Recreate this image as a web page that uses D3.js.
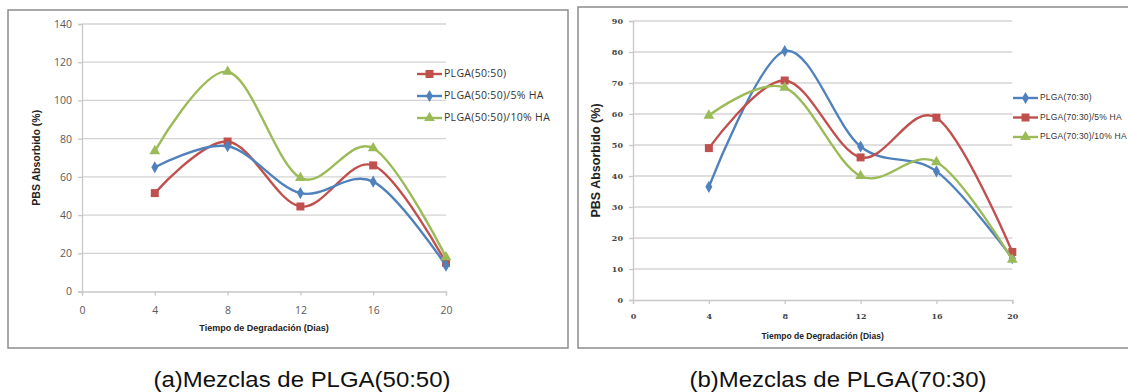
<!DOCTYPE html>
<html>
<head>
<meta charset="utf-8">
<script src="https://cdn.jsdelivr.net/npm/d3@7"></script>
<style>
  body { margin: 0; background: #fff; }
  svg { display: block; }
</style>
</head>
<body>
<svg id="chart" width="1128" height="392"></svg>
<script>
(function (d3) {
    'use strict';

    // Days on the x axis.
    var days = [4, 8, 12, 16, 20];

    // (a) PLGA(50:50) blends.
    var namesA = ['PLGA(50:50)', 'PLGA(50:50)/5% HA', 'PLGA(50:50)/10% HA'];
    var plga5050 = [51.5, 78.5, 44.5, 66, 15];
    var plga5050ha5 = [65, 76, 51.5, 57.5, 13.5];
    var plga5050ha10 = [73.5, 115, 59.5, 75, 18];
    var yTicksA = [0, 20, 40, 60, 80, 100, 120, 140];

    // (b) PLGA(70:30) blends.
    var namesB = ['PLGA(70:30)', 'PLGA(70:30)/5% HA', 'PLGA(70:30)/10% HA'];
    var plga7030 = [36.5, 80.3, 49.5, 41.5, 13.5];
    var plga7030ha5 = [49, 70.8, 46, 58.8, 15.5];
    var plga7030ha10 = [59.5, 68.5, 40, 44.5, 13];
    var yTicksB = [0, 10, 20, 30, 40, 50, 60, 70, 80, 90];

    var xTicks = [0, 4, 8, 12, 16, 20];
    var xTitle = 'Tiempo de Degradación (Dias)';
    var yTitle = 'PBS Absorbido (%)';
    var captions = ['(a)Mezclas de PLGA(50:50)', '(b)Mezclas de PLGA(70:30)'];

    var red = '#c0504d', blue = '#4f81bd', green = '#9bbb59';

    var svg = d3.select('#chart');

    // Panel settings (boxes, plot areas, fonts).
    var panels = [
        {
            box: [8, 10, 560, 338],
            x0: 82, x1: 446, y0: 291.5, y1: 24,
            yMax: 140, yTicks: yTicksA,
            tickFont: '"Open Sans", "DejaVu Sans", sans-serif', tickSize: 10.5, tickWeight: 'normal', tickColor: '#5a5a5a',
            xLabelY: 311, xTitleY: 329, xTitleSize: 9,
            yTitleX: 37, yTitleSize: 10.5,
            series: [
                {name: namesA[0], values: plga5050, color: red, marker: 'square'},
                {name: namesA[1], values: plga5050ha5, color: blue, marker: 'diamond'},
                {name: namesA[2], values: plga5050ha10, color: green, marker: 'triangle'}
            ],
            legend: {x: 417, y: 74, step: 22, size: 10.5, spacing: 0.3, font: '"Open Sans", "DejaVu Sans", sans-serif'},
            caption: captions[0], captionX: 302
        },
        {
            box: [578, 7, 560, 341],
            x0: 633, x1: 1012.3, y0: 300, y1: 21,
            yMax: 90, yTicks: yTicksB,
            tickFont: '"DejaVu Serif", "Liberation Serif", serif', tickSize: 8, tickWeight: 'bold', tickColor: '#444',
            xLabelY: 317, xTitleY: 337, xTitleSize: 8.5,
            yTitleX: 597, yTitleSize: 12.5,
            series: [
                {name: namesB[0], values: plga7030, color: blue, marker: 'diamond'},
                {name: namesB[1], values: plga7030ha5, color: red, marker: 'square'},
                {name: namesB[2], values: plga7030ha10, color: green, marker: 'triangle'}
            ],
            legend: {x: 1013, y: 98, step: 19.5, size: 8.5, spacing: 0.2, font: '"Liberation Sans", Arial, sans-serif'},
            caption: captions[1], captionX: 838
        }
    ];

    var symbolType = {
        square: d3.symbolSquare,
        diamond: d3.symbolDiamond,
        triangle: d3.symbolTriangle
    };
    var symbolSize = {square: 64, diamond: 42, triangle: 50};

    panels.forEach(drawPanel);

    function drawPanel(p) {
        var g = svg.append('g');

        // Frame.
        g.append('rect')
            .attr('x', p.box[0]).attr('y', p.box[1])
            .attr('width', p.box[2]).attr('height', p.box[3])
            .attr('fill', '#fff')
            .attr('stroke', '#8c8c8c')
            .attr('stroke-width', 1.5);

        var x = d3.scaleLinear().domain([0, 20]).range([p.x0, p.x1]);
        var y = d3.scaleLinear().domain([0, p.yMax]).range([p.y0, p.y1]);

        // Gridlines.
        g.append('g')
            .selectAll('line')
            .data(p.yTicks.slice(1))
            .join('line')
            .attr('x1', p.x0).attr('x2', p.x1)
            .attr('y1', function (d) { return y(d); })
            .attr('y2', function (d) { return y(d); })
            .attr('stroke', '#d4d4d4')
            .attr('stroke-width', 1.3);

        // Axes.
        var yAxis = g.append('g')
            .attr('transform', 'translate(' + p.x0 + ',0)')
            .call(d3.axisLeft(y).tickValues(p.yTicks).tickSize(4).tickPadding(6));
        var xAxis = g.append('g')
            .attr('transform', 'translate(0,' + p.y0 + ')')
            .call(d3.axisBottom(x).tickValues(xTicks).tickSize(4).tickPadding(6));

        [yAxis, xAxis].forEach(function (ax) {
            ax.select('.domain').attr('stroke', '#c8c8c8').attr('stroke-width', 1.3);
            ax.selectAll('.tick line').attr('stroke', '#c8c8c8').attr('stroke-width', 1.3);
            ax.selectAll('.tick text')
                .attr('font-family', p.tickFont)
                .attr('font-size', p.tickSize)
                .attr('font-weight', p.tickWeight)
                .attr('fill', p.tickColor);
        });
        xAxis.selectAll('.tick text')
            .attr('dy', null)
            .attr('y', p.xLabelY - p.y0)
            .attr('dominant-baseline', 'middle');

        // Axis titles.
        g.append('text')
            .attr('x', (p.x0 + p.x1) / 2)
            .attr('y', p.xTitleY)
            .attr('text-anchor', 'middle')
            .attr('dominant-baseline', 'middle')
            .attr('font-family', '"Liberation Sans", Arial, sans-serif')
            .attr('font-weight', 'bold')
            .attr('font-size', p.xTitleSize)
            .attr('fill', '#222')
            .text(xTitle);

        g.append('text')
            .attr('transform', 'translate(' + p.yTitleX + ',' + ((p.y0 + p.y1) / 2) + ') rotate(-90)')
            .attr('text-anchor', 'middle')
            .attr('dominant-baseline', 'middle')
            .attr('font-family', '"Liberation Sans", Arial, sans-serif')
            .attr('font-weight', 'bold')
            .attr('font-size', p.yTitleSize)
            .attr('fill', '#222')
            .text(yTitle);

        // Smoothed lines, like Excel's.
        var line = d3.line()
            .x(function (d, i) { return x(days[i]); })
            .y(function (d) { return y(d); })
            .curve(d3.curveCatmullRom.alpha(0));

        p.series.forEach(function (s) {
            g.append('path')
                .datum(s.values)
                .attr('fill', 'none')
                .attr('stroke', s.color)
                .attr('stroke-width', 2.4)
                .attr('d', line);

            g.append('g')
                .selectAll('path')
                .data(s.values)
                .join('path')
                .attr('transform', function (d, i) {
                    return 'translate(' + x(days[i]) + ',' + y(d) + ')';
                })
                .attr('d', d3.symbol().type(symbolType[s.marker]).size(symbolSize[s.marker]))
                .attr('fill', s.color);
        });

        // Legend.
        var lg = g.append('g')
            .selectAll('g')
            .data(p.series)
            .join('g')
            .attr('transform', function (d, i) {
                return 'translate(' + p.legend.x + ',' + (p.legend.y + i * p.legend.step) + ')';
            });
        lg.append('line')
            .attr('x1', 0).attr('x2', 25)
            .attr('stroke', function (d) { return d.color; })
            .attr('stroke-width', 2.4);
        lg.append('path')
            .attr('transform', 'translate(12.5,0)')
            .attr('d', function (d) {
                return d3.symbol().type(symbolType[d.marker]).size(symbolSize[d.marker])();
            })
            .attr('fill', function (d) { return d.color; });
        lg.append('text')
            .attr('x', 27)
            .attr('dominant-baseline', 'middle')
            .attr('font-family', p.legend.font)
            .attr('font-size', p.legend.size)
            .attr('letter-spacing', p.legend.spacing)
            .attr('fill', '#333')
            .text(function (d) { return d.name; });

        // Caption below the panel.
        svg.append('text')
            .attr('x', p.captionX)
            .attr('y', 381)
            .attr('text-anchor', 'middle')
            .attr('dominant-baseline', 'middle')
            .attr('font-family', '"Liberation Sans", Arial, sans-serif')
            .attr('font-size', 22)
            .attr('fill', '#111')
            .attr('textLength', 297)
            .attr('lengthAdjust', 'spacingAndGlyphs')
            .text(p.caption);
    }
})(d3);
</script>
</body>
</html>
